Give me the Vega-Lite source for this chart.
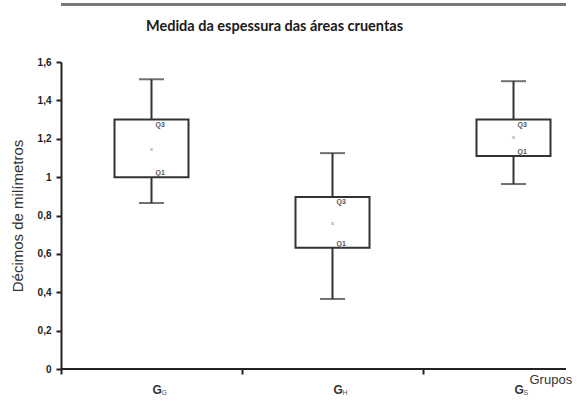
{
  "$schema": "https://vega.github.io/schema/vega-lite/v6.json",
  "autosize": {"type": "none"},
  "padding": {"left": 61, "top": 62, "right": 18, "bottom": 32},
  "width": 505,
  "height": 307,
  "background": "white",
  "config": {
    "view": {"stroke": null},
    "axisY": {
      "titleFont": "Liberation Sans",
      "titleFontSize": 15,
      "titleFontWeight": "normal",
      "titleColor": "#333",
      "titlePadding": 12,
      "labelOverlap": false,
      "labelFont": "Liberation Sans",
      "labelFontSize": 10,
      "labelFontWeight": "bold",
      "labelColor": "#222",
      "labelPadding": 5,
      "tickSize": 5,
      "tickWidth": 2,
      "tickColor": "#222",
      "domainColor": "#222",
      "domainWidth": 2,
      "grid": false
    }
  },
  "title": {
    "text": "Medida da espessura das áreas cruentas",
    "font": "Lato",
    "fontSize": 14.5,
    "fontWeight": "bold",
    "color": "#1a1a1a",
    "anchor": "middle",
    "frame": "group",
    "baseline": "bottom",
    "dx": -39,
    "offset": -45
  },
  "data": {
    "values": [
      {"group": "GG", "sub": "G", "min": 0.865, "q1": 1.0, "mean": 1.145, "q3": 1.3, "max": 1.51},
      {"group": "GH", "sub": "H", "min": 0.365, "q1": 0.632, "mean": 0.76, "q3": 0.896, "max": 1.125},
      {"group": "GS", "sub": "S", "min": 0.964, "q1": 1.11, "mean": 1.21, "q3": 1.3, "max": 1.5}
    ]
  },
  "encoding": {
    "x": {
      "field": "group",
      "type": "nominal",
      "sort": null,
      "scale": {"range": [0, 543], "paddingInner": 0, "paddingOuter": 0},
      "axis": {
        "title": null,
        "labels": false,
        "domain": false,
        "tickBand": "extent",
        "ticks": true,
        "tickSize": 5,
        "tickOffset": 0,
        "tickColor": "#222",
        "tickWidth": 2
      }
    }
  },
  "layer": [
    {
      "mark": {"type": "rule", "color": "#333", "strokeWidth": 2},
      "encoding": {
        "y": {"field": "min", "type": "quantitative", "scale": {"domain": [0, 1.6], "nice": false},
          "axis": {"title": "Décimos de milímetros", "values": [0, 0.2, 0.4, 0.6, 0.8, 1, 1.2, 1.4, 1.6], "labelExpr": "replace(format(datum.value, '~g'), '.', ',')"}},
        "y2": {"field": "max"}
      }
    },
    {
      "mark": {"type": "rule", "color": "#777", "strokeWidth": 2.5},
      "encoding": {"x": null, "y": {"datum": 1.9, "type": "quantitative",
        "axis": {"title": "Décimos de milímetros", "values": [0, 0.2, 0.4, 0.6, 0.8, 1, 1.2, 1.4, 1.6], "labelExpr": "replace(format(datum.value, '~g'), '.', ',')"}}}
    },
    {
      "mark": {"type": "rule", "color": "#222", "strokeWidth": 2},
      "encoding": {"x": null, "y": {"datum": 0, "type": "quantitative",
        "axis": {"title": "Décimos de milímetros", "values": [0, 0.2, 0.4, 0.6, 0.8, 1, 1.2, 1.4, 1.6], "labelExpr": "replace(format(datum.value, '~g'), '.', ',')"}}}
    },
    {
      "mark": {"type": "tick", "orient": "horizontal", "size": 25, "thickness": 2, "color": "#333"},
      "encoding": {"y": {"field": "min", "type": "quantitative",
        "axis": {"title": "Décimos de milímetros", "values": [0, 0.2, 0.4, 0.6, 0.8, 1, 1.2, 1.4, 1.6], "labelExpr": "replace(format(datum.value, '~g'), '.', ',')"}}}
    },
    {
      "mark": {"type": "tick", "orient": "horizontal", "size": 25, "thickness": 2, "color": "#333"},
      "encoding": {"y": {"field": "max", "type": "quantitative",
        "axis": {"title": "Décimos de milímetros", "values": [0, 0.2, 0.4, 0.6, 0.8, 1, 1.2, 1.4, 1.6], "labelExpr": "replace(format(datum.value, '~g'), '.', ',')"}}}
    },
    {
      "mark": {"type": "bar", "width": 74, "fill": "white", "stroke": "#333", "strokeWidth": 2},
      "encoding": {"y": {"field": "q1", "type": "quantitative",
        "axis": {"title": "Décimos de milímetros", "values": [0, 0.2, 0.4, 0.6, 0.8, 1, 1.2, 1.4, 1.6], "labelExpr": "replace(format(datum.value, '~g'), '.', ',')"}}, "y2": {"field": "q3"}}
    },
    {
      "mark": {"type": "text", "text": "Q3", "align": "left", "baseline": "top", "dx": 4, "dy": 1, "font": "Liberation Sans", "fontSize": 7, "fontWeight": "bold", "color": "#555"},
      "encoding": {"y": {"field": "q3", "type": "quantitative",
        "axis": {"title": "Décimos de milímetros", "values": [0, 0.2, 0.4, 0.6, 0.8, 1, 1.2, 1.4, 1.6], "labelExpr": "replace(format(datum.value, '~g'), '.', ',')"}}}
    },
    {
      "mark": {"type": "text", "text": "Q1", "align": "left", "baseline": "bottom", "dx": 4, "dy": -1, "font": "Liberation Sans", "fontSize": 7, "fontWeight": "bold", "color": "#555"},
      "encoding": {"y": {"field": "q1", "type": "quantitative",
        "axis": {"title": "Décimos de milímetros", "values": [0, 0.2, 0.4, 0.6, 0.8, 1, 1.2, 1.4, 1.6], "labelExpr": "replace(format(datum.value, '~g'), '.', ',')"}}}
    },
    {
      "mark": {"type": "text", "text": "x", "align": "center", "baseline": "middle", "font": "Liberation Sans", "fontSize": 6, "color": "#777"},
      "encoding": {"y": {"field": "mean", "type": "quantitative",
        "axis": {"title": "Décimos de milímetros", "values": [0, 0.2, 0.4, 0.6, 0.8, 1, 1.2, 1.4, 1.6], "labelExpr": "replace(format(datum.value, '~g'), '.', ',')"}}}
    },
    {
      "mark": {"type": "text", "text": "G", "align": "left", "baseline": "middle", "dx": 1, "dy": 21, "font": "Liberation Sans", "fontSize": 12, "fontWeight": "bold", "color": "#333"},
      "encoding": {"y": {"datum": 0, "type": "quantitative",
        "axis": {"title": "Décimos de milímetros", "values": [0, 0.2, 0.4, 0.6, 0.8, 1, 1.2, 1.4, 1.6], "labelExpr": "replace(format(datum.value, '~g'), '.', ',')"}}}
    },
    {
      "mark": {"type": "text", "align": "left", "baseline": "middle", "dx": 10, "dy": 24, "font": "Liberation Sans", "fontSize": 7, "color": "#555"},
      "encoding": {"y": {"datum": 0, "type": "quantitative",
        "axis": {"title": "Décimos de milímetros", "values": [0, 0.2, 0.4, 0.6, 0.8, 1, 1.2, 1.4, 1.6], "labelExpr": "replace(format(datum.value, '~g'), '.', ',')"}}, "text": {"field": "sub"}}
    },
    {
      "transform": [{"filter": "datum.group == 'GS'"}],
      "mark": {"type": "text", "text": "Grupos", "align": "left", "baseline": "middle", "dx": 16, "dy": 11, "font": "Liberation Sans", "fontSize": 13, "color": "#333"},
      "encoding": {"y": {"datum": 0, "type": "quantitative",
        "axis": {"title": "Décimos de milímetros", "values": [0, 0.2, 0.4, 0.6, 0.8, 1, 1.2, 1.4, 1.6], "labelExpr": "replace(format(datum.value, '~g'), '.', ',')"}}}
    }
  ]
}
